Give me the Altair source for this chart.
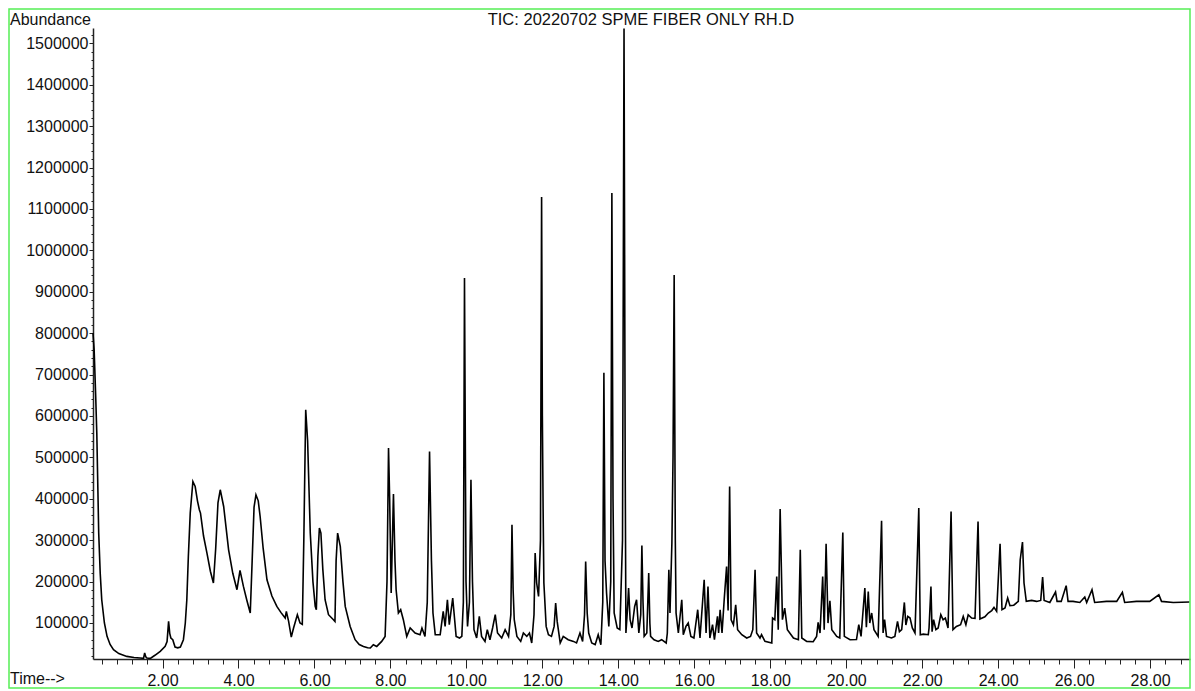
import altair as alt
import pandas as pd

# Retention time (min) and abundance
times = [
    0.17, 0.20, 0.24, 0.27, 0.32, 0.36, 0.40, 0.47, 0.54, 0.62, 0.71, 0.85, 1.06, 1.25, 1.41, 1.50,
    1.53, 1.56, 1.59, 1.68, 1.80, 1.94, 2.07, 2.12, 2.16, 2.19, 2.22, 2.27, 2.33, 2.40, 2.47, 2.55,
    2.60, 2.64, 2.68, 2.73, 2.80, 2.86, 2.92, 2.97, 3.00, 3.08, 3.17, 3.26, 3.34, 3.40, 3.46, 3.52,
    3.61, 3.74, 3.85, 3.96, 4.04, 4.13, 4.22, 4.31, 4.36, 4.41, 4.46, 4.52, 4.57, 4.65, 4.75, 4.88,
    5.01, 5.12, 5.23, 5.26, 5.32, 5.39, 5.45, 5.55, 5.62, 5.68, 5.72, 5.77, 5.82, 5.89, 5.96, 6.02,
    6.05, 6.09, 6.13, 6.17, 6.22, 6.28, 6.37, 6.50, 6.54, 6.57, 6.61, 6.68, 6.75, 6.81, 6.94, 7.07,
    7.18, 7.29, 7.40, 7.47, 7.55, 7.64, 7.77, 7.86, 7.91, 7.95, 7.98, 8.02, 8.08, 8.12, 8.15, 8.21,
    8.27, 8.34, 8.43, 8.52, 8.65, 8.78, 8.83, 8.91, 8.97, 9.03, 9.08, 9.12, 9.18, 9.31, 9.39, 9.44,
    9.50, 9.55, 9.64, 9.73, 9.82, 9.88, 9.92, 9.95, 9.99, 10.03, 10.08, 10.12, 10.16, 10.20, 10.27, 10.34,
    10.40, 10.49, 10.55, 10.62, 10.69, 10.76, 10.82, 10.93, 11.02, 11.11, 11.17, 11.20, 11.23, 11.26, 11.33, 11.43,
    11.50, 11.59, 11.66, 11.72, 11.78, 11.81, 11.85, 11.90, 11.95, 11.98, 12.00, 12.02, 12.04, 12.10, 12.16, 12.24,
    12.31, 12.35, 12.39, 12.47, 12.55, 12.68, 12.82, 12.90, 12.99, 13.06, 13.11, 13.14, 13.18, 13.22, 13.30, 13.39,
    13.47, 13.54, 13.59, 13.62, 13.65, 13.69, 13.75, 13.80, 13.83, 13.86, 13.89, 13.97, 14.04, 14.11, 14.15, 14.18,
    14.20, 14.24, 14.27, 14.31, 14.36, 14.43, 14.48, 14.54, 14.59, 14.62, 14.65, 14.68, 14.75, 14.80, 14.83, 14.85,
    14.94, 15.05, 15.14, 15.26, 15.29, 15.33, 15.36, 15.41, 15.44, 15.47, 15.50, 15.52, 15.58, 15.67, 15.71, 15.78,
    15.84, 15.91, 15.99, 16.09, 16.15, 16.26, 16.31, 16.36, 16.41, 16.48, 16.53, 16.61, 16.64, 16.68, 16.73, 16.79,
    16.85, 16.89, 16.93, 16.97, 17.03, 17.09, 17.14, 17.25, 17.38, 17.48, 17.54, 17.60, 17.64, 17.73, 17.77, 17.86,
    18.04, 18.06, 18.12, 18.17, 18.21, 18.26, 18.32, 18.38, 18.45, 18.61, 18.74, 18.79, 18.83, 18.96, 19.13, 19.22,
    19.26, 19.31, 19.38, 19.42, 19.47, 19.52, 19.57, 19.62, 19.75, 19.83, 19.91, 19.95, 20.10, 20.27, 20.33, 20.39,
    20.49, 20.53, 20.58, 20.62, 20.67, 20.73, 20.84, 20.93, 20.97, 21.01, 21.06, 21.19, 21.28, 21.35, 21.40, 21.46,
    21.53, 21.57, 21.62, 21.68, 21.74, 21.81, 21.91, 21.95, 22.03, 22.16, 22.18, 22.23, 22.26, 22.30, 22.36, 22.42,
    22.49, 22.55, 22.61, 22.68, 22.76, 22.81, 22.90, 23.01, 23.08, 23.15, 23.21, 23.30, 23.39, 23.47, 23.52, 23.65,
    23.74, 23.83, 23.89, 23.96, 24.05, 24.10, 24.18, 24.25, 24.31, 24.41, 24.53, 24.58, 24.64, 24.68, 24.74, 24.88,
    25.01, 25.12, 25.17, 25.21, 25.36, 25.51, 25.55, 25.66, 25.79, 25.84, 25.97, 26.15, 26.28, 26.33, 26.47, 26.54,
    26.85, 27.12, 27.27, 27.33, 27.64, 27.99, 28.23, 28.30, 28.61, 29.04,
]
abundance = [
    800000, 760000, 650000, 559000, 318000, 220000, 156000, 100000, 67600, 48000, 35500, 26000, 19300, 16500, 15400, 14500,
    27500, 18000, 15400, 14500, 22000, 31400, 43400, 55000, 103800, 75000, 63700, 59600, 42000, 40000, 42000, 59600,
    100000, 156000, 260000, 366000, 441700, 429600, 395000, 373400, 365400, 310000, 268900, 225000, 196500, 280000, 390000, 421700,
    381400, 276800, 220000, 180300, 226900, 188300, 155000, 124100, 250000, 380000, 409600, 395000, 357200, 280000, 204400, 165000,
    140000, 125000, 112000, 128000, 103800, 66100, 87900, 120000, 100000, 96500, 300000, 614800, 540000, 317200, 200000, 140000,
    132000, 260000, 329200, 317200, 230000, 156200, 120000, 107900, 103800, 250000, 317200, 284800, 200000, 140000, 91700, 59600,
    48000, 43400, 40000, 39600, 47500, 43400, 55500, 67600, 200000, 522300, 400000, 172300, 411300, 250000, 180300, 124100,
    132000, 107900, 67600, 87900, 75800, 71700, 87900, 67600, 150000, 514100, 250000, 124100, 71700, 71700, 128000, 91700,
    156200, 95800, 160300, 67600, 63700, 67600, 150000, 933400, 200000, 91700, 150000, 445800, 200000, 83800, 63700, 115900,
    67600, 55500, 83800, 59600, 87900, 120000, 75800, 63700, 83800, 67600, 120000, 337200, 180000, 107900, 67600, 55500,
    75800, 67600, 75800, 51700, 120000, 268900, 196500, 164100, 300000, 1128900, 600000, 373400, 196500, 91700, 71700, 67600,
    91700, 148200, 103800, 51700, 67600, 59600, 55500, 51700, 75800, 55500, 120000, 248600, 124100, 75800, 51700, 47500,
    71700, 47500, 150000, 704100, 250000, 172300, 91700, 200000, 1138500, 400000, 124100, 87900, 83800, 300000, 1536000, 500000,
    75800, 132000, 184400, 107900, 87900, 140000, 156200, 75800, 120000, 287300, 150000, 67600, 75800, 220600, 100000, 67600,
    59600, 55500, 59600, 51700, 75800, 228600, 124100, 293000, 500000, 940600, 300000, 124100, 75800, 156200, 71700, 91700,
    100000, 67600, 63700, 132000, 63700, 204400, 75800, 188300, 63700, 95800, 59600, 115900, 75800, 132000, 75800, 160300,
    236500, 130000, 429600, 107900, 95800, 144100, 83800, 71700, 63700, 67600, 83800, 228600, 75800, 63700, 71700, 55500,
    51700, 112000, 107900, 212400, 83800, 375100, 107900, 136100, 83800, 63700, 59600, 276800, 63700, 55500, 54700, 67600,
    101400, 75800, 212400, 83800, 291300, 99800, 153700, 83800, 67600, 63700, 318600, 67600, 59600, 60000, 95800, 67600,
    184400, 90000, 176200, 100000, 124100, 83800, 67600, 346800, 75800, 107900, 67600, 63700, 67600, 103800, 79000, 84000,
    149600, 95000, 115900, 112000, 87900, 75800, 377500, 71700, 73000, 71700, 87900, 188300, 79000, 107900, 83800, 87900,
    120000, 107900, 112000, 87900, 369300, 83800, 91700, 95800, 115900, 95800, 120000, 112000, 111000, 345200, 109600, 115000,
    124100, 130000, 137600, 128000, 291300, 132000, 136000, 160300, 141700, 143000, 152100, 252700, 295400, 196500, 152100, 154500,
    152100, 154500, 211000, 154500, 149600, 174700, 152100, 152100, 190000, 152100, 152100, 149600, 162700, 149600, 180300, 149600,
    152100, 152100, 173800, 149600, 152100, 152100, 168200, 152100, 149600, 150500,
]

title_text = "TIC: 20220702 SPME FIBER ONLY RH.D"
y_label = "Abundance"
x_label = "Time-->"

x_ticks = [round(0.4 * i, 1) for i in range(1, 73)]
y_ticks = list(range(20000, 1540000, 20000))

df = pd.DataFrame({"time": times, "abundance": abundance})

FONT = "Liberation Sans"
W, H = 1097, 631

x_axis = alt.Axis(
    values=x_ticks,
    labelExpr="datum.value % 2 === 0 ? format(datum.value, '.2f') : ''",
    tickSize={"condition": {"test": "datum.value % 2 === 0", "value": 9}, "value": 5},
    title=None, grid=False, domainColor="#222", tickColor="#222", domainWidth=1.5,
    labelFont=FONT, labelFontSize=16, labelColor="#111", labelPadding=4,
    labelOverlap=False, labelFlush=False,
)
y_axis = alt.Axis(
    values=y_ticks,
    labelExpr="datum.value % 100000 === 0 ? datum.label : ''",
    format="d",
    tickSize={"condition": {"test": "datum.value % 100000 === 0", "value": 4}, "value": 2},
    title=None, grid=False, domainColor="#222", tickColor="#222", domainWidth=1.5,
    labelFont=FONT, labelFontSize=16, labelColor="#111", labelPadding=1,
    labelOverlap=False, labelFlush=False,
)

line = alt.Chart(df).mark_line(color="black", strokeWidth=1.6).encode(
    x=alt.X("time:Q", scale=alt.Scale(domain=[0.17, 29.05], nice=False, zero=False), axis=x_axis),
    y=alt.Y("abundance:Q", scale=alt.Scale(domain=[13000, 1537000], nice=False, zero=False), axis=y_axis),
)

one = pd.DataFrame({"k": [0]})

border = alt.Chart(one).mark_rect(filled=False, stroke="#55ee55", strokeWidth=1.5).encode(
    x=alt.value(-84), x2=alt.value(W), y=alt.value(-19), y2=alt.value(660)
)

txt_abund = alt.Chart(one).mark_text(
    text=y_label, font=FONT, fontSize=16, align="left", baseline="alphabetic", color="#111"
).encode(x=alt.value(-83), y=alt.value(-3))

txt_title = alt.Chart(one).mark_text(
    text=title_text, font=FONT, fontSize=16.5, align="center", baseline="alphabetic", color="#111"
).encode(x=alt.value(548), y=alt.value(-3))

txt_time = alt.Chart(one).mark_text(
    text=x_label, font=FONT, fontSize=16, align="left", baseline="alphabetic", color="#111"
).encode(x=alt.value(-83), y=alt.value(656))

chart = alt.layer(line, border, txt_abund, txt_title, txt_time).properties(
    width=W, height=H,
    autosize=alt.AutoSizeParams(type="none"),
    padding={"left": 93, "top": 28, "right": 5, "bottom": 32},
    background="white",
).configure_view(stroke=None)

chart.save("out.html", embed_options={"renderer": "svg", "actions": False})
